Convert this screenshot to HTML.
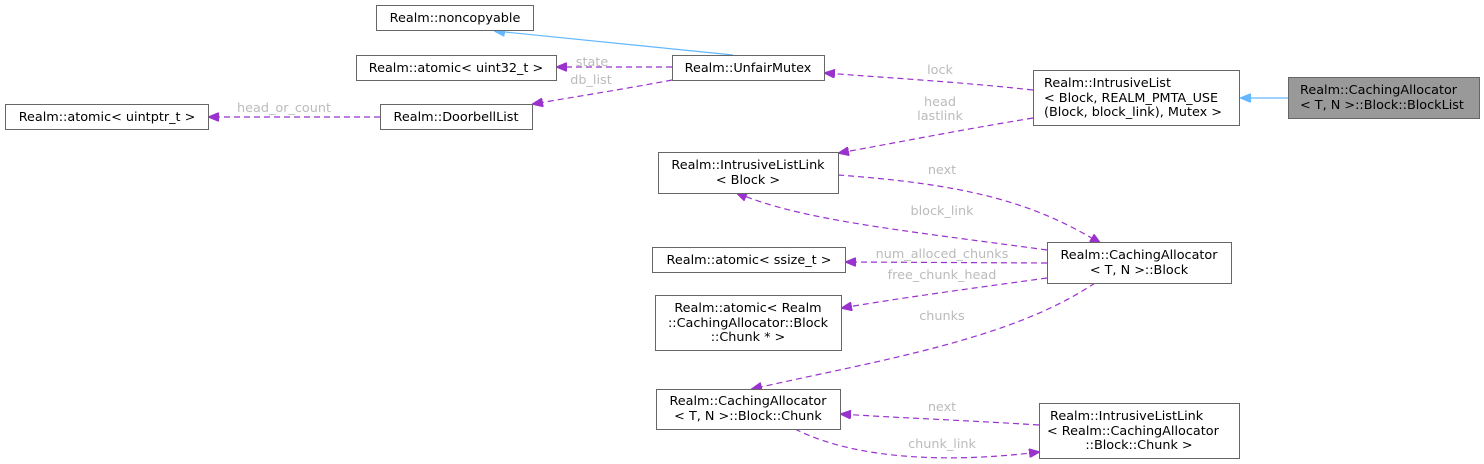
<!DOCTYPE html>
<html><head><style>body{margin:0;background:#fff}svg{display:block}</style></head><body>
<svg width="1484" height="464" xmlns="http://www.w3.org/2000/svg" font-family="'DejaVu Sans','Liberation Sans',sans-serif" font-size="12.8">
<defs>
<marker id="p" markerWidth="11" markerHeight="9" refX="10" refY="4.5" orient="auto" markerUnits="userSpaceOnUse"><path d="M0,0L11,4.5L0,9z" fill="#9a32cd" stroke="#9a32cd"/></marker>
<marker id="b" markerWidth="11" markerHeight="9" refX="10" refY="4.5" orient="auto" markerUnits="userSpaceOnUse"><path d="M0,0L11,4.5L0,9z" fill="#63b8ff" stroke="#63b8ff"/></marker>
</defs>
<g fill="none" stroke-width="1.2">
<path d="M1288,98L1241,98" stroke="#63b8ff" marker-end="url(#b)"/>
<path d="M733,55L495,31" stroke="#63b8ff" marker-end="url(#b)"/>
<g stroke="#9a32cd" stroke-dasharray="6,4" marker-end="url(#p)">
<path d="M672,67L557,67"/>
<path d="M672,80C630,88 580,96 533,104"/>
<path d="M380,117L209,117"/>
<path d="M1033,90C960,82 890,78 825,73"/>
<path d="M1033,118C960,130 900,142 839,153"/>
<path d="M838,175C960,184 1030,200 1100,243"/>
<path d="M1047,250C900,230 800,220 737,193"/>
<path d="M1047,263L846,262"/>
<path d="M1047,278C960,290 900,298 842,308"/>
<path d="M1095,283C1010,340 880,360 752,389"/>
<path d="M1039,425C960,420 900,418 841,414"/>
<path d="M795,429C860,462 960,462 1039,452"/>
</g>
</g>
<g fill="#fff" stroke="#666">
<rect x="376.5" y="5.5" width="157" height="25"/>
<rect x="356.5" y="55.5" width="200" height="25"/>
<rect x="672.5" y="55.5" width="152" height="25"/>
<rect x="5.5" y="104.5" width="203" height="25"/>
<rect x="380.5" y="104.5" width="152" height="25"/>
<rect x="1033.5" y="70.5" width="206" height="55"/>
<rect x="1288.5" y="77.5" width="191" height="41" fill="#999"/>
<rect x="658.5" y="152.5" width="180" height="41"/>
<rect x="652.5" y="247.5" width="193" height="25"/>
<rect x="1047.5" y="242.5" width="184" height="41"/>
<rect x="655.5" y="295.5" width="186" height="55"/>
<rect x="656.5" y="389.5" width="184" height="40"/>
<rect x="1039.5" y="403.5" width="200" height="55"/>
</g>
<g fill="#000" text-anchor="middle">
<text x="455" y="22">Realm::noncopyable</text>
<text x="456" y="72">Realm::atomic&lt; uint32_t &gt;</text>
<text x="748" y="72">Realm::UnfairMutex</text>
<text x="107" y="121">Realm::atomic&lt; uintptr_t &gt;</text>
<text x="456" y="121">Realm::DoorbellList</text>
<g text-anchor="start">
<text x="1044" y="87">Realm::IntrusiveList</text>
<text x="1044" y="102">&lt; Block, REALM_PMTA_USE</text>
<text x="1044" y="116">(Block, block_link), Mutex &gt;</text>
<text x="1300" y="94">Realm::CachingAllocator</text>
<text x="1300" y="109">&lt; T, N &gt;::Block::BlockList</text>
<text x="1050" y="420">Realm::IntrusiveListLink</text>
<text x="1047" y="435">&lt; Realm::CachingAllocator</text>
</g>
<text x="748" y="169">Realm::IntrusiveListLink</text>
<text x="748" y="184">&lt; Block &gt;</text>
<text x="749" y="264">Realm::atomic&lt; ssize_t &gt;</text>
<text x="1139" y="259">Realm::CachingAllocator</text>
<text x="1139" y="274">&lt; T, N &gt;::Block</text>
<text x="748" y="312">Realm::atomic&lt; Realm</text>
<text x="748" y="327">::CachingAllocator::Block</text>
<text x="748" y="341">::Chunk * &gt;</text>
<text x="748" y="405">Realm::CachingAllocator</text>
<text x="748" y="420">&lt; T, N &gt;::Block::Chunk</text>
<text x="1139" y="449">::Block::Chunk &gt;</text>
</g>
<g fill="#bbb" text-anchor="middle">
<text x="940" y="74">lock</text>
<text x="940" y="106">head</text>
<text x="940" y="120">lastlink</text>
<text x="942" y="174">next</text>
<text x="942" y="215">block_link</text>
<text x="942" y="258">num_alloced_chunks</text>
<text x="942" y="279">free_chunk_head</text>
<text x="942" y="320">chunks</text>
<text x="942" y="411">next</text>
<text x="942" y="448">chunk_link</text>
<text x="592" y="66">state</text>
<text x="591" y="84">db_list</text>
<text x="284" y="112">head_or_count</text>
</g>
</svg>
</body></html>
